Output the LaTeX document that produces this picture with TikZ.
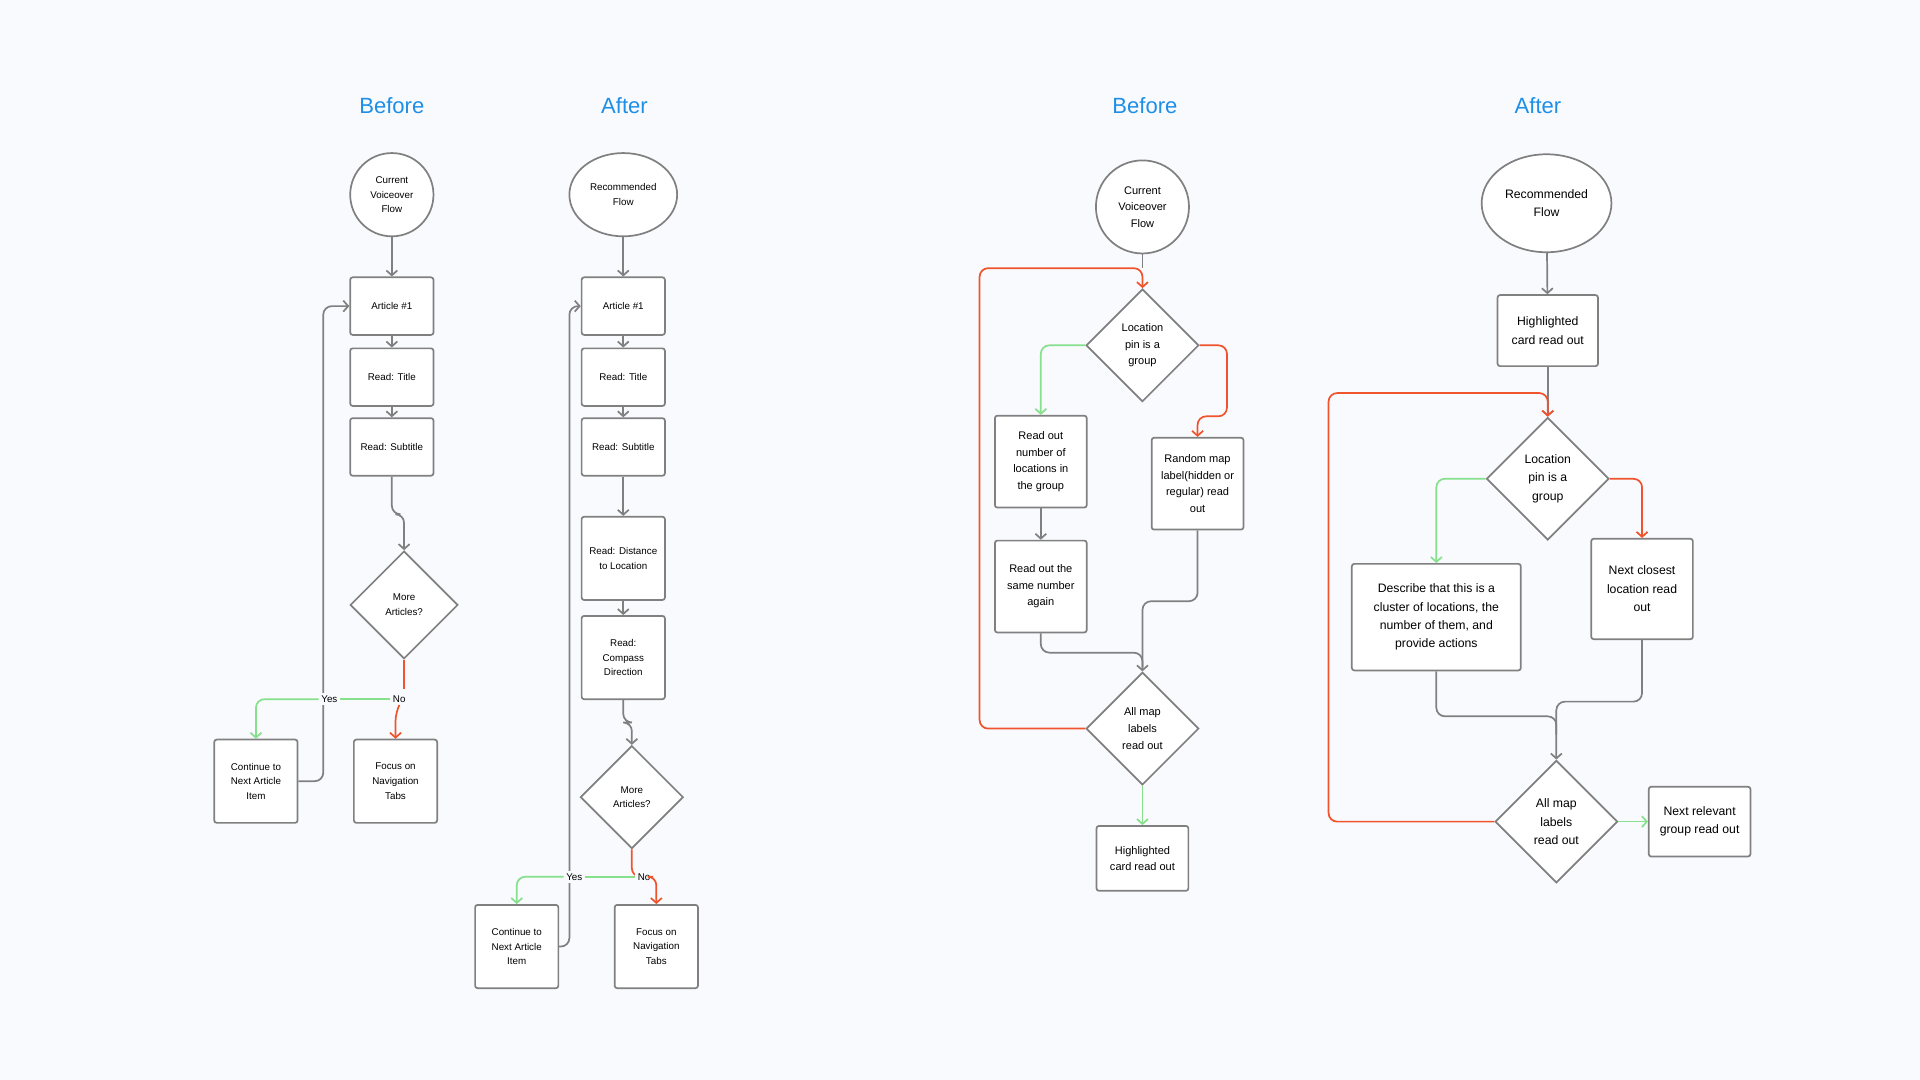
\documentclass[tikz,border=0pt]{standalone}
\usepackage{fontspec}
\setmainfont{Liberation Sans}
\usetikzlibrary{shapes.geometric,arrows.meta}
\definecolor{bg}{HTML}{F8FAFE}
\definecolor{ln}{HTML}{808080}
\definecolor{rd}{HTML}{F0542C}
\definecolor{gr}{HTML}{86E08C}
\definecolor{tt}{HTML}{1E8FE6}
\begin{document}
\begin{tikzpicture}[x=1pt,y=-1pt,
  box/.style={draw=ln,line width=1.4pt,fill=white,rounded corners=2pt,align=center,inner sep=1pt},
  dia/.style={draw=ln,line width=1.4pt,fill=white,diamond,align=center,inner sep=0pt},
  ell/.style={draw=ln,line width=1.4pt,fill=white,ellipse,align=center,inner sep=0pt},
  ttl/.style={text=tt,font=\fontsize{18}{20}\selectfont},
  c/.style={line width=1.4pt,rounded corners=7pt},
  a/.style={c,-{Straight Barb[length=4pt,width=9pt]}},
  s/.style={font=\fontsize{8}{12}\selectfont},
  m/.style={font=\fontsize{9}{13.5}\selectfont},
  l/.style={font=\fontsize{10}{15}\selectfont},
  lab/.style={fill=bg,inner sep=2pt,font=\fontsize{8}{10}\selectfont}]
\fill[bg] (0,0) rectangle (1568,882);
\useasboundingbox (0,0) rectangle (1568,882);
\node[ttl] (t1) at (320,86) {Before};
\node[ttl] (t2) at (510,86) {After};
\node[ttl] (t3) at (935,86) {Before};
\node[ttl] (t4) at (1256,86) {After};
% ===== Panel 1
\node[ell,s,minimum width=68,minimum height=68] (p1s) at (320,159) {Current\\Voiceover\\Flow};
\node[box,s,minimum width=68,minimum height=47] (p1a) at (320,250) {Article \#1};
\node[box,s,minimum width=68,minimum height=47] (p1b) at (320,308) {Read: Title};
\node[box,s,minimum width=68,minimum height=47] (p1c) at (320,365) {Read: Subtitle};
\node[dia,s,minimum width=88,minimum height=88] (p1d) at (330,494) {More\\Articles?};
\node[box,s,minimum width=68,minimum height=68] (p1e) at (209,638) {Continue to\\Next Article\\Item};
\node[box,s,minimum width=68,minimum height=68] (p1f) at (323,638) {Focus on\\Navigation\\Tabs};
\coordinate (p1y) at (269,571);
\coordinate (p1n) at (326,571);
\draw[a,ln] (p1s) -- (p1a);
\draw[a,ln] (p1a) -- (p1b);
\draw[a,ln] (p1b) -- (p1c);
\draw[a,ln] (p1c.south) -- (320,420) -- (330,420) -- (p1d.north);
\draw[a,ln] (p1e.east) -- (264,638) -- (264,250) -- (p1a.west);
\draw[c,rd] (p1d.south) -- (330,563);
\draw[c,gr] (p1n) -- (p1y);
\node[lab] (p1yl) at (p1y) {Yes};
\node[lab] (p1nl) at (p1n) {No};
\draw[a,gr] (p1yl.west) -- (209,571) -- (p1e.north);
\draw[a,rd] (p1nl.south) -- (323,582) -- (p1f.north);
% ===== Panel 2
\node[ell,s,minimum width=88,minimum height=68] (p2s) at (509,159) {Recommended\\Flow};
\node[box,s,minimum width=68,minimum height=47] (p2a) at (509,250) {Article \#1};
\node[box,s,minimum width=68,minimum height=47] (p2b) at (509,308) {Read: Title};
\node[box,s,minimum width=68,minimum height=47] (p2c) at (509,365) {Read: Subtitle};
\node[box,s,minimum width=68,minimum height=68] (p2g) at (509,456) {Read: Distance\\to Location};
\node[box,s,minimum width=68,minimum height=68] (p2h) at (509,537) {Read:\\Compass\\Direction};
\node[dia,s,minimum width=84,minimum height=84] (p2d) at (516,651) {More\\Articles?};
\node[box,s,minimum width=68,minimum height=68] (p2e) at (422,773) {Continue to\\Next Article\\Item};
\node[box,s,minimum width=68,minimum height=68] (p2f) at (536,773) {Focus on\\Navigation\\Tabs};
\coordinate (p2y) at (469,716);
\coordinate (p2n) at (526,716);
\draw[a,ln] (p2s) -- (p2a);
\draw[a,ln] (p2a) -- (p2b);
\draw[a,ln] (p2b) -- (p2c);
\draw[a,ln] (p2c) -- (p2g);
\draw[a,ln] (p2g) -- (p2h);
\draw[a,ln] (p2h.south) -- (509,590) -- (516,590) -- (p2d.north);
\draw[a,ln] (p2e.east) -- (465,773) -- (465,250) -- (p2a.west);
\draw[c,rd] (p2d.south) -- (516,716) -- (p2n);
\draw[c,gr] (p2n) -- (p2y);
\node[lab] (p2yl) at (p2y) {Yes};
\node[lab] (p2nl) at (p2n) {No};
\draw[a,gr] (p2yl.west) -- (422,716) -- (p2e.north);
\draw[a,rd] (p2nl.east) -- (536,716) -- (p2f.north);
% ===== Panel 3
\node[ell,m,minimum width=76,minimum height=76] (p3s) at (933,169) {Current\\Voiceover\\Flow};
\node[dia,m,minimum width=92,minimum height=92] (p3d) at (933,282) {Location\\pin is a\\group};
\node[box,m,minimum width=75,minimum height=75] (p3a) at (850,377) {Read out\\number of\\locations in\\the group};
\node[box,m,minimum width=75,minimum height=75] (p3b) at (978,395) {Random map\\label(hidden or\\regular) read\\out};
\node[box,m,minimum width=75,minimum height=75] (p3c) at (850,479) {Read out the\\same number\\again};
\node[dia,m,minimum width=92,minimum height=92] (p3e) at (933,595) {All map\\labels\\read out};
\node[box,m,minimum width=75,minimum height=53] (p3f) at (933,701) {Highlighted\\card read out};
\draw[c,ln] (p3s) -- (933,219);
\draw[a,rd] (p3e.west) -- (800,595) -- (800,219) -- (933,219) -- (p3d.north);
\draw[a,gr] (p3d.west) -- (850,282) -- (p3a.north);
\draw[a,rd] (p3d.east) -- (1002,282) -- (1002,340) -- (978,340) -- (p3b.north);
\draw[a,ln] (p3a) -- (p3c);
\draw[c,ln] (p3c.south) -- (850,533) -- (933,533) -- (933,545);
\draw[a,ln] (p3b.south) -- (978,491) -- (933,491) -- (p3e.north);
\draw[a,gr] (p3e) -- (p3f);
% ===== Panel 4
\node[ell,l,minimum width=106,minimum height=80] (p4s) at (1263,166) {Recommended\\Flow};
\node[box,l,minimum width=82,minimum height=58] (p4a) at (1264,270) {Highlighted\\card read out};
\node[dia,l,minimum width=100,minimum height=100] (p4d) at (1264,391) {Location\\pin is a\\group};
\node[box,l,minimum width=138,minimum height=87] (p4b) at (1173,504) {Describe that this is a\\cluster of locations, the\\number of them, and\\provide actions};
\node[box,l,minimum width=83,minimum height=82] (p4c) at (1341,481) {Next closest\\location read\\out};
\node[dia,l,minimum width=100,minimum height=100] (p4e) at (1271,671) {All map\\labels\\read out};
\node[box,l,minimum width=83,minimum height=57] (p4f) at (1388,671) {Next relevant\\group read out};
\draw[a,ln] (p4s) -- (p4a);
\draw[a,ln] (p4a) -- (p4d);
\draw[a,rd] (p4e.west) -- (1085,671) -- (1085,321) -- (1264,321) -- (p4d.north);
\draw[a,gr] (p4d.west) -- (1173,391) -- (p4b.north);
\draw[a,rd] (p4d.east) -- (1341,391) -- (p4c.north);
\draw[c,ln] (p4b.south) -- (1173,585) -- (1271,585) -- (1271,600);
\draw[a,ln] (p4c.south) -- (1341,573) -- (1271,573) -- (p4e.north);
\draw[a,gr] (p4e) -- (p4f);
\end{tikzpicture}
\end{document}
